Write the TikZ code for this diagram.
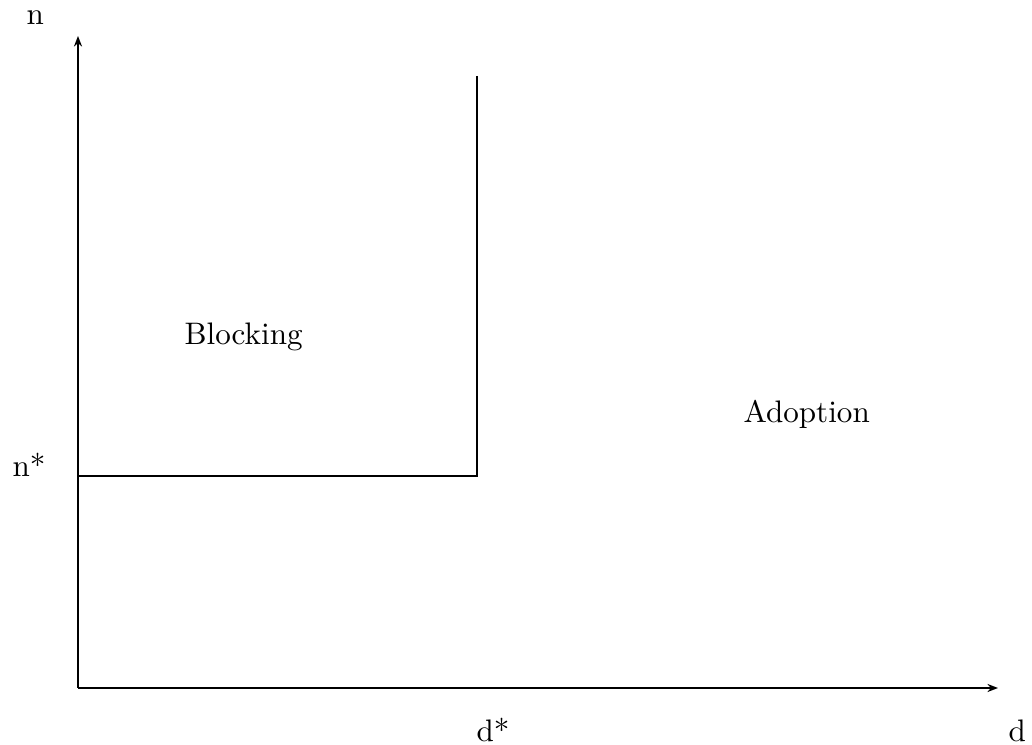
\documentclass[tikz,border=0pt]{standalone}
\usetikzlibrary{arrows.meta}
\begin{document}
\begin{tikzpicture}[x=0.3215pt,y=-0.3215pt,
  axis/.style={line width=0.95pt,-{Stealth[length=3.4pt,width=2.6pt]}},
  bound/.style={line width=0.8pt},
  lbl/.style={anchor=base west,inner sep=0pt,font=\fontsize{10}{12}\selectfont}]
\useasboundingbox (0,0) rectangle (1032,745);
\coordinate (O) at (78,688);
\coordinate (ytop) at (78,36);
\coordinate (xend) at (998,688);
\coordinate (ctop) at (477,76);
\coordinate (corner) at (477,476);
\coordinate (left) at (78,476);
\draw[axis] (O) -- (ytop);
\draw[axis] (O) -- (xend);
\draw[bound] (ctop) -- (corner) -- (left);
\node[lbl] (n) at (26,25) {n};
\node[lbl] (nstar) at (12,477) {n*};
\node[lbl] (dstar) at (476,742) {d*};
\node[lbl] (d) at (1008,742) {d};
\node[lbl] (blocking) at (184,345) {Blocking};
\node[lbl] (adoption) at (743,423) {Adoption};
\end{tikzpicture}
\end{document}
